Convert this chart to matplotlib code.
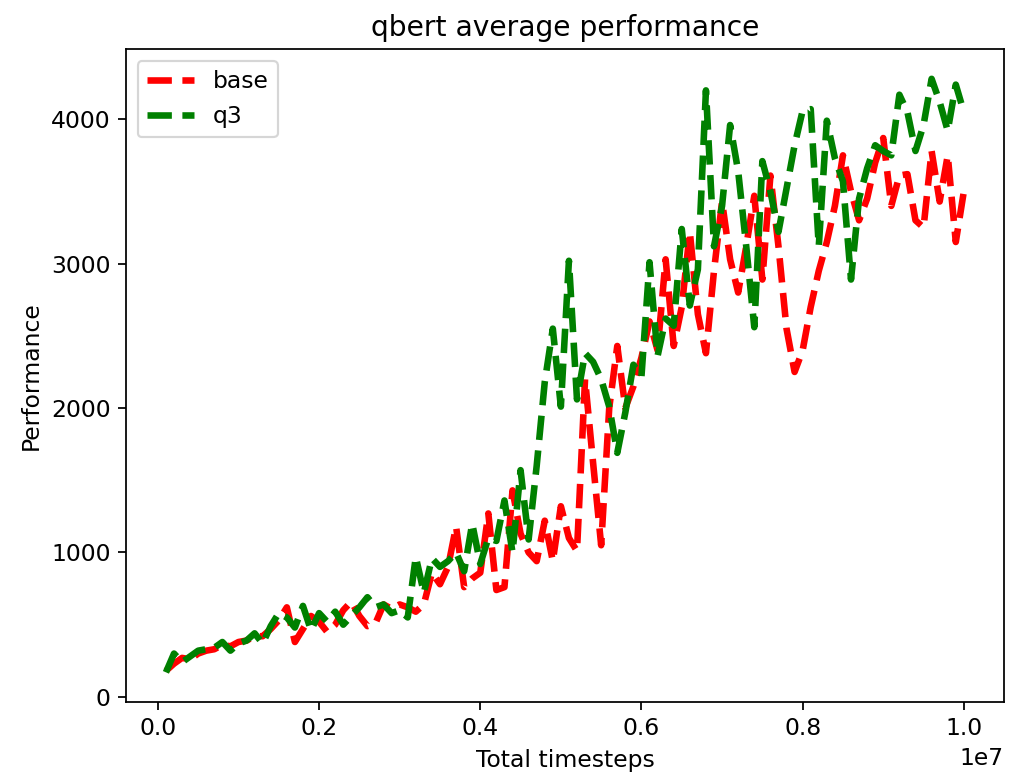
import numpy as np
import matplotlib
matplotlib.use("Agg")
import matplotlib.pyplot as plt

# Evaluation checkpoints (every 100k steps up to 10M)
timesteps = np.arange(1, 101) * 1e5

base = [
    180, 230, 270, 260, 300, 320, 330, 360, 350, 380,
    390, 420, 420, 470, 530, 620, 380, 470, 560, 520,
    450, 500, 600, 660, 560, 490, 510, 640, 610, 640,
    620, 590, 640, 860, 780, 900, 1180, 760, 820, 860,
    1270, 740, 760, 1430, 1130, 1000, 940, 1220, 940, 1320,
    1100, 1010, 2200, 1620, 1050, 2000, 2430, 2000, 2150, 2350,
    2600, 2400, 3030, 2430, 2700, 3220, 2650, 2380, 2950, 3430,
    3030, 2800, 3120, 3470, 2890, 3610, 3120, 2550, 2250, 2400,
    2700, 2950, 3150, 3400, 3750, 3500, 3300, 3450, 3700, 3870,
    3400, 3610, 3620, 3300, 3250, 3780, 3430, 3750, 3150, 3500,
]

q3 = [
    170, 300, 240, 280, 320, 330, 340, 380, 320, 370,
    390, 440, 370, 490, 580, 550, 480, 630, 460, 580,
    520, 590, 500, 560, 620, 690, 620, 640, 580, 600,
    550, 970, 720, 960, 900, 940, 1000, 870, 1200, 920,
    1100, 1080, 1360, 1000, 1570, 1090, 1600, 2180, 2550, 2010,
    3020, 2060, 2380, 2320, 2200, 2010, 1690, 1970, 2300, 2220,
    3010, 2360, 2620, 2570, 3240, 2710, 2960, 4200, 3120, 3400,
    3960, 3640, 3120, 2560, 3710, 3500, 3220, 3520, 3820, 4060,
    4070, 3120, 3990, 3730, 3570, 2890, 3450, 3660, 3820, 3780,
    3750, 4170, 4050, 3780, 3960, 4280, 4120, 3920, 4240, 4050,
]

plt.rcParams["font.size"] = 10.7

fig = plt.figure(figsize=(1010 / 158, 780 / 158), dpi=158)
ax = fig.add_axes([0.1248, 0.1, 0.869, 0.837])

ax.plot(timesteps, base, linestyle="--", color="red", linewidth=3, label="base")
ax.plot(timesteps, q3, linestyle="--", color="green", linewidth=3, label="q3")

ax.set_title("qbert average performance")
ax.set_xlabel("Total timesteps")
ax.set_ylabel("Performance")
ax.legend(loc="upper left")

fig.savefig("out.png", dpi=158)
